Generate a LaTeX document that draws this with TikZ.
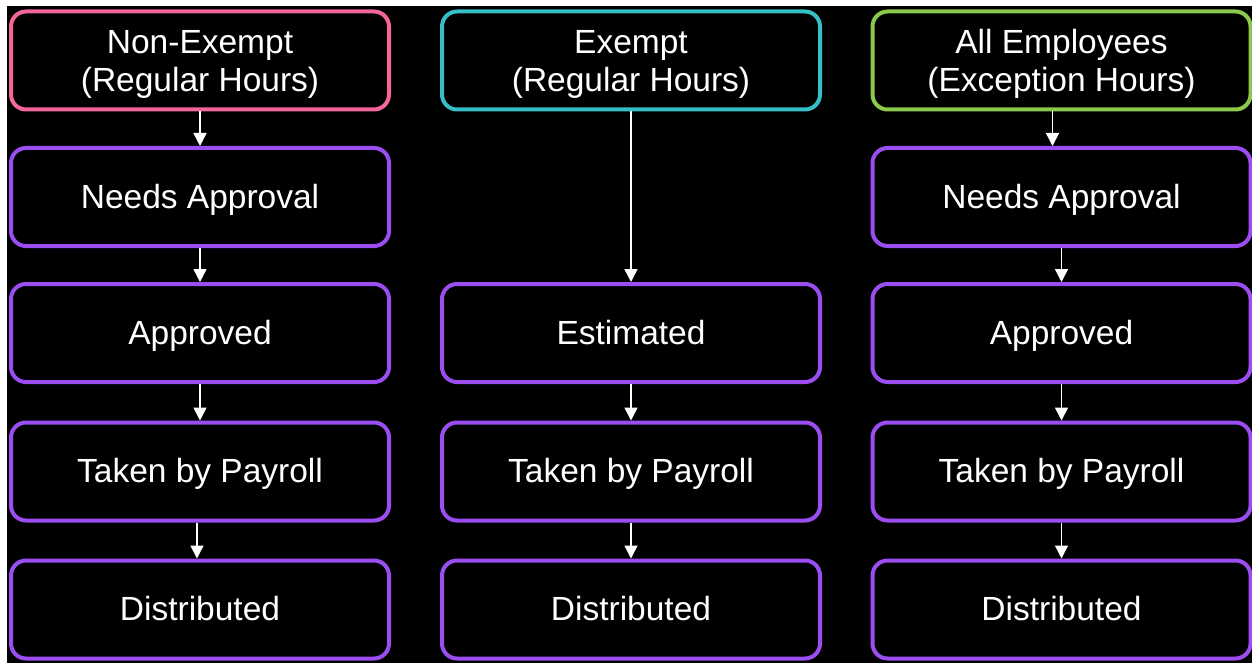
\documentclass[tikz,border=0pt]{standalone}
\usepackage{fontspec}
\setmainfont{Liberation Sans}
\usetikzlibrary{arrows.meta}
\definecolor{pinkline}{HTML}{F2669C}
\definecolor{cyanline}{HTML}{36BEC6}
\definecolor{greenline}{HTML}{8CC84B}
\definecolor{purpline}{HTML}{9B4DF2}

\begin{document}
\begin{tikzpicture}[x=1pt, y=-1pt,
    every node/.style={rectangle, rounded corners=15pt, draw=purpline, line width=4pt,
      minimum width=378pt, minimum height=98pt, text=white, align=center,
      text height=24pt, text depth=2pt, font=\fontsize{33.5}{38}\selectfont},
    head/.style={text height=65pt},
    flow/.style={draw=white, line width=1.5pt, -{Triangle[width=13pt,length=13pt]}}]
                \useasboundingbox (0,0) rectangle (1252,663);
                \fill[white] (0,0) rectangle (1252,663);
                \fill[black] (7,6) rectangle (1252,663);

                % non-exempt
                \node[head, draw=pinkline] (N1) at (200,60.5) {Non-Exempt\\(Regular Hours)};
                \node (N2) at (200,197) {Needs Approval};
                \node (N3) at (200,333) {Approved};
                \node (N4) at (200,471.5) {Taken by Payroll};
                \node (N5) at (200,609.5) {Distributed};

                % exempt
                \node[head, draw=cyanline] (E1) at (631,60.5) {Exempt\\(Regular Hours)};
                \node (E3) at (631,333) {Estimated};
                \node (E4) at (631,471.5) {Taken by Payroll};
                \node (E5) at (631,609.5) {Distributed};

                % all employees
                \node[head, draw=greenline] (A1) at (1061.5,60.5) {All Employees\\(Exception Hours)};
                \node (A2) at (1061.5,197) {Needs Approval};
                \node (A3) at (1061.5,333) {Approved};
                \node (A4) at (1061.5,471.5) {Taken by Payroll};
                \node (A5) at (1061.5,609.5) {Distributed};

                \draw[flow] (N1) -- (N2);
                \draw[flow] (N2) -- (N3);
                \draw[flow] (N3) -- (N4);
                \draw[flow] ([xshift=-3pt]N4.south) -- ([xshift=-3pt]N5.north);

                \draw[flow] (E1) -- (E3);
                \draw[flow] (E3) -- (E4);
                \draw[flow] (E4) -- (E5);

                \draw[flow] ([xshift=-9pt]A1.south) -- ([xshift=-9pt]A2.north);
                \draw[flow] (A2) -- (A3);
                \draw[flow] (A3) -- (A4);
                \draw[flow] (A4) -- (A5);
            \end{tikzpicture}
\end{document}
